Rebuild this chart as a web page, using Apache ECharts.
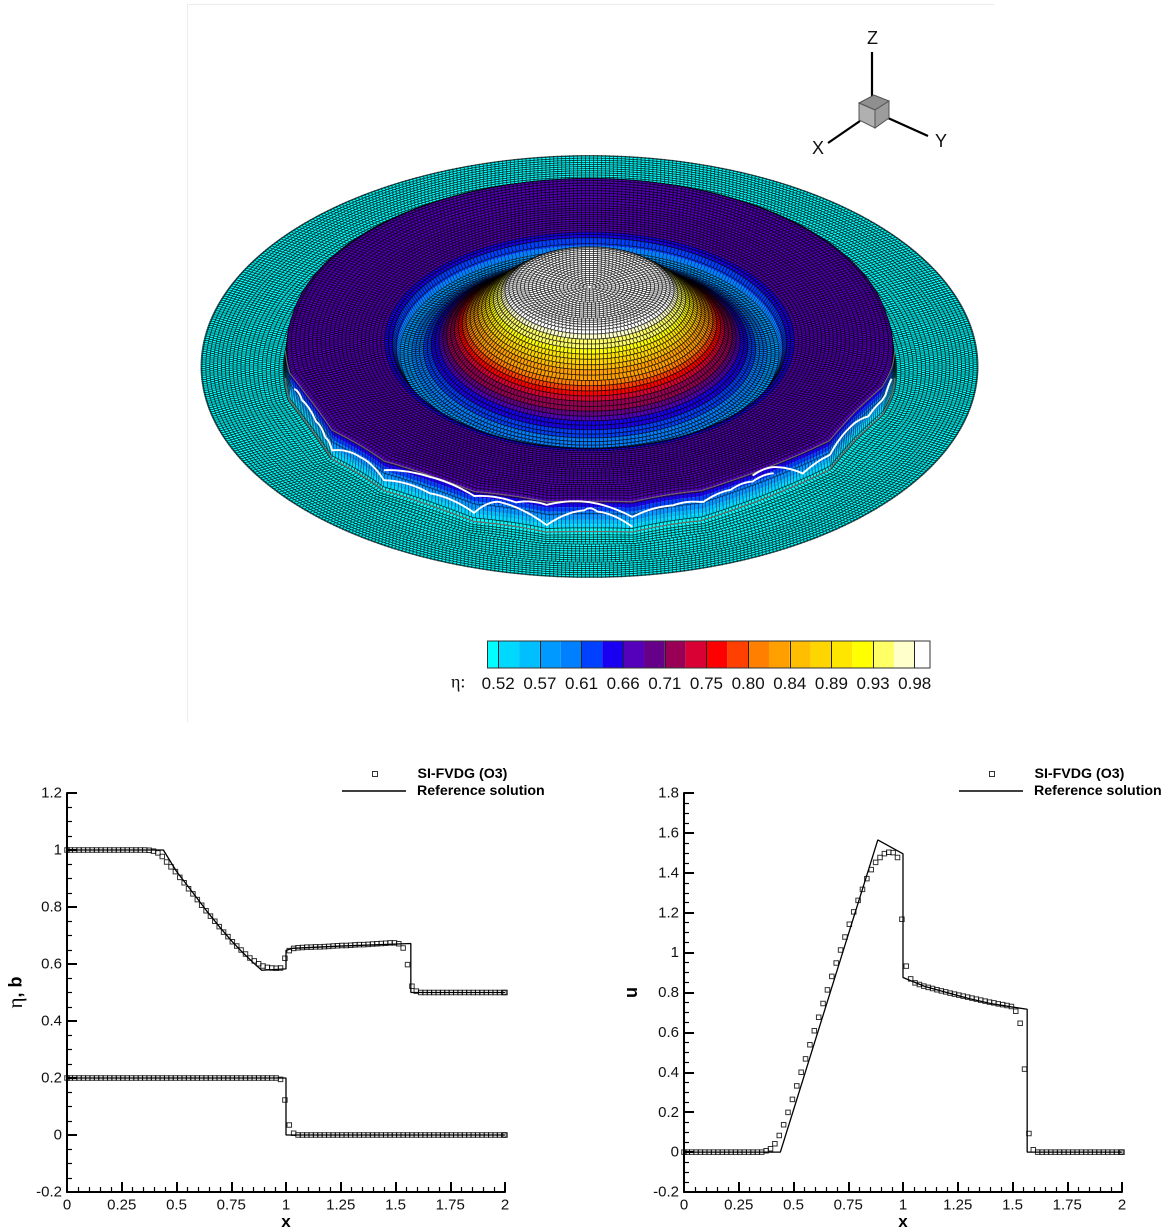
<!DOCTYPE html>
<html>
<head>
<meta charset="utf-8">
<script src="https://cdn.jsdelivr.net/npm/echarts@6/dist/echarts.min.js"></script>
<style>html,body{margin:0;padding:0;background:#fff}#c{width:1170px;height:1232px;filter:blur(0.25px)}</style>
</head>
<body>
<div id="c"></div>
<script>
// ---------- data ----------
const xNodes = [0,
0.015,0.035,0.055,0.075,0.095,0.115,0.135,0.155,0.175,0.195,0.215,0.235,0.255,0.275,0.295,0.315,0.335,0.355,
0.375,0.395,0.415,0.435,0.455,0.475,0.495,0.515,0.535,0.555,0.575,0.595,0.615,0.635,0.655,0.675,0.695,0.715,0.735,0.755,0.775,0.795,0.815,0.835,0.855,0.875,0.895,0.915,0.935,0.955,0.975,0.995,
1.015,1.035,1.055,1.075,1.095,1.115,1.135,1.155,1.175,1.195,1.215,1.235,1.255,1.275,1.295,1.315,1.335,1.355,1.375,1.395,1.415,1.435,1.455,1.475,1.495,
1.515,1.535,1.555,1.575,1.595,
1.615,1.635,1.655,1.675,1.695,1.715,1.735,1.755,1.775,1.795,1.815,1.835,1.855,1.875,1.895,1.915,1.935,1.955,1.975,1.995,
2];
const etaMarkers = [1,
1,1,1,1,1,1,1,1,1,1,1,1,1,1,1,1,1,1,
0.999,0.996,0.99,0.977,0.958,0.941,0.924,0.904,0.885,0.864,0.846,0.826,0.806,0.787,0.768,0.75,0.731,0.712,0.696,0.678,0.663,0.649,0.635,0.621,0.611,0.601,0.593,0.588,0.586,0.585,0.586,0.62,
0.647,0.655,0.657,0.658,0.659,0.659,0.66,0.66,0.661,0.662,0.663,0.664,0.665,0.665,0.666,0.667,0.668,0.668,0.669,0.67,0.671,0.672,0.673,0.674,0.674,
0.671,0.656,0.598,0.522,0.505,
0.5,0.5,0.5,0.5,0.5,0.5,0.5,0.5,0.5,0.5,0.5,0.5,0.5,0.5,0.5,0.5,0.5,0.5,0.5,0.5,
0.5];
const bMarkers = [0.2,
0.2,0.2,0.2,0.2,0.2,0.2,0.2,0.2,0.2,0.2,0.2,0.2,0.2,0.2,0.2,0.2,0.2,0.2,
0.2,0.2,0.2,0.2,0.2,0.2,0.2,0.2,0.2,0.2,0.2,0.2,0.2,0.2,0.2,0.2,0.2,0.2,0.2,0.2,0.2,0.2,0.2,0.2,0.2,0.2,0.2,0.2,0.2,0.2,0.195,0.123,
0.035,0.006,0,0,0,0,0,0,0,0,0,0,0,0,0,0,0,0,0,0,0,0,0,0,0,
0,0,0,0,0,
0,0,0,0,0,0,0,0,0,0,0,0,0,0,0,0,0,0,0,0,
0];
const uMarkers = [0,
0,0,0,0,0,0,0,0,0,0,0,0,0,0,0,0,0,0,
0.007,0.017,0.042,0.083,0.137,0.199,0.264,0.332,0.4,0.467,0.538,0.608,0.676,0.745,0.813,0.881,0.948,1.013,1.078,1.142,1.204,1.262,1.317,1.371,1.416,1.452,1.477,1.496,1.503,1.501,1.477,1.167,
0.932,0.868,0.848,0.84,0.832,0.826,0.82,0.814,0.808,0.803,0.797,0.792,0.787,0.782,0.777,0.772,0.767,0.762,0.757,0.752,0.748,0.743,0.739,0.735,0.73,
0.706,0.646,0.416,0.093,0.012,
0,0,0,0,0,0,0,0,0,0,0,0,0,0,0,0,0,0,0,0,
0];
const etaRefX = [0,0.44,0.5,0.575,0.638,0.7,0.755,0.8,0.85,0.889,1,1,1.03,1.25,1.57,1.57,2];
const etaRefY = [1,1,0.925,0.85,0.786,0.727,0.678,0.642,0.605,0.578,0.583,0.648,0.655,0.663,0.672,0.5,0.5];
const bRefX = [0,1,1,2];
const bRefY = [0.2,0.2,0,0];
const uRefX = [0,0.44,0.885,1,1,1.1,1.2,1.3,1.4,1.5,1.567,1.567,2];
const uRefY = [0,0,1.565,1.495,0.875,0.83,0.8,0.77,0.745,0.727,0.716,0,0];
const bandEdges = [0.5083,0.52,0.5428,0.5655,0.5883,0.611,0.6338,0.6565,0.6793,0.702,0.7248,0.7475,0.7703,0.793,0.8158,0.8385,0.8613,0.884,0.9068,0.9295,0.9523,0.975,0.9917];
const bandColors = ['#00ffff','#00d8ff','#00bfff','#0099ff','#0080ff','#0040ff','#1a00f0','#5500bb','#660088','#990055','#d90033','#ff0000','#ff4000','#ff8000','#ffa000','#ffbf00','#ffd500','#ffe600','#ffff00','#ffff66','#ffffcc','#ffffff'];
const colorbarTicks = [0.52,0.5655,0.611,0.6565,0.702,0.7475,0.793,0.8385,0.884,0.9295,0.975];
const colorbarLabels = ['0.52','0.57','0.61','0.66','0.71','0.75','0.80','0.84','0.89','0.93','0.98'];
// radius of the front wall by azimuth (degrees, 0 = nearest the viewer)
const wallDeg = [-180,-100,-85,-70,-54,-40,-21.5,-8,0,7.5,16,22,33.6,44.8,53,63,73.6,80.8,100,180];
const wallRad = [1.585,1.56,1.57,1.585,1.59,1.58,1.585,1.585,1.59,1.585,1.575,1.57,1.58,1.58,1.575,1.57,1.575,1.58,1.56,1.585];
// azimuths where the wall kinks outward; it scallops inward between them
const wallKinks = [-78,-56.5,-42,-22,-8,8,21.5,51.6,73];
// bright crest lines on the front wall: [azimuth, height fraction of the wall]
const crestA = [[-76,0.62],[-72,0.6],[-65,0.5],[-60,0.4],[-56.5,0.3],[-49,0.6],[-42,0.35],[-32,0.4],[-22,0.29],[-17.5,0.74],[-8,0.23],[-1,0.7],[1.4,0.66],[8,0.17]];
const crestB = [[-42,0.69],[-32,0.95],[-22,0.85],[-14,0.8],[-8,0.9],[0,0.97],[8,0.5],[16,0.62],[22,0.6],[28,0.7],[33,0.72],[38,0.72]];
const crestC = [[33,0.92],[38,0.93],[45,0.3],[52,0.5],[60,0.65],[68,0.4],[75,0.5],[80,0.6]];
const wallTop = [[-86,1],[86,1]];
const wallFoot = [[-86,0],[86,0]];

// ---------- view of the 3D surface ----------
const tilt = 0.5431, lift = 0.82, cosE = Math.sqrt(1-tilt*tilt), rise = lift/cosE;
function lerpTable(xs,ys,v,bulge){
  if (v<=xs[0]) return ys[0];
  for (let k=1;k<xs.length;k++) if (v<=xs[k]){const f=(v-xs[k-1])/(xs[k]-xs[k-1]);return ys[k-1]*(1-f)+ys[k]*f+(bulge||0)*4*f*(1-f);}
  return ys[ys.length-1];
}
function wallR(th){
  const d=th*180/Math.PI;
  let R=lerpTable(wallDeg,wallRad,d);
  for(let k=0;k+1<wallKinks.length;k++) if(d>wallKinks[k]&&d<wallKinks[k+1]){
    const w=wallKinks[k+1]-wallKinks[k],s=(d-wallKinks[k])/w;
    R-=Math.min(0.04,0.0016*w)*4*s*(1-s);
  }
  return R;
}
function mapR(r,th){
  if (r<=1.3||r>=1.8) return r;
  const W=wallR(th);
  if (r<1.535) return 1.3+(r-1.3)/0.235*(W-0.01-1.3);
  if (r<=1.595) return W+(r-1.565)*0.33;
  return W+0.01+(r-1.595)/0.205*(1.8-W-0.01);
}
// heights read a little larger towards the viewer, as in the perspective view
function project(R,th,eta){
  const g=R*Math.cos(th);
  return [R*Math.sin(th), -g*tilt + (eta-0.5)*lift*(1+0.11*g/1.57)];
}
function bandOf(v){
  for (let k=bandEdges.length-2;k>=0;k--) if (v>=bandEdges[k]) return k;
  return 0;
}
const cells = [];
for (let i=1;i<xNodes.length-1;i++){
  const rm = (xNodes[i]+xNodes[i+1])/2;
  const n = Math.max(8,Math.round(2*Math.PI*rm/0.0205));
  for (let j=0;j<n;j++){
    const t0 = -Math.PI+2*Math.PI*j/n, t1 = -Math.PI+2*Math.PI*(j+1)/n;
    const tm = (t0+t1)/2;
    cells.push({i,t0,t1,key:mapR(rm,tm)*Math.cos(tm)});
  }
}
cells.sort((a,b)=>a.key-b.key);
const cellData = cells.map(c=>[0,0]);

function shaded(col,c,e0,e1){
  const tm=(c.t0+c.t1)/2;
  const dr=Math.max(1e-4,mapR(xNodes[c.i+1],tm)-mapR(xNodes[c.i],tm));
  const m=(e1-e0)*rise/dr;
  const nv=(-m*Math.cos(tm)*cosE+tilt)/Math.sqrt(1+m*m);
  if (nv>=0.16) return col;
  const f=Math.max(0,nv/0.16);
  return echarts.color.lerp(0.92*(1-f),[col,'#000000']);
}
function renderCell(params,api){
  const c = cells[params.dataIndex];
  const r0=xNodes[c.i], r1=xNodes[c.i+1], e0=etaMarkers[c.i], e1=etaMarkers[c.i+1];
  const a=project(mapR(r0,c.t0),c.t0,e0), b=project(mapR(r1,c.t0),c.t0,e1), d=project(mapR(r1,c.t1),c.t1,e1), e=project(mapR(r0,c.t1),c.t1,e0);
  const pts=[a,b,d,e].map(p=>api.coord(p));
  if (Math.abs(e0-e1)<0.03){
    return {type:'polygon',shape:{points:pts},style:{fill:shaded(bandColors[bandOf((e0+e1)/2)],c,e0,e1),stroke:'rgba(0,0,0,0.62)',lineWidth:0.85}};
  }
  // a tall cell crosses several colour levels: flood each level inside it
  const cuts=[0];
  const lo=Math.min(e0,e1),hi=Math.max(e0,e1);
  bandEdges.forEach(v=>{if(v>lo&&v<hi)cuts.push((v-e0)/(e1-e0));});
  cuts.push(1);cuts.sort((p,q)=>p-q);
  const mix=(p,q,s)=>[p[0]+(q[0]-p[0])*s,p[1]+(q[1]-p[1])*s];
  const kids=[];
  for(let k=0;k+1<cuts.length;k++){
    const s0=cuts[k],s1=cuts[k+1];
    const quad=[mix(pts[0],pts[1],s0),mix(pts[0],pts[1],s1),mix(pts[3],pts[2],s1),mix(pts[3],pts[2],s0)];
    const v=e0+(e1-e0)*(s0+s1)/2;
    kids.push({type:'polygon',shape:{points:quad},style:{fill:shaded(bandColors[bandOf(v)],c,e0,e1),stroke:null}});
  }
  kids.push({type:'polygon',shape:{points:pts},style:{fill:null,stroke:'#000',lineWidth:0.35}});
  return {type:'group',children:kids};
}
const wallHeight=etaMarkers[76]-0.5;
const overlays=[
  {t:wallTop,stroke:'#6b6b6b',w:1.1,b:0},{t:wallFoot,stroke:'#6b6b6b',w:1.2,b:0},
  {t:crestA,stroke:'#ffffff',w:1.9,b:0.09},{t:crestB,stroke:'#ffffff',w:1.9,b:0.06},{t:crestC,stroke:'#ffffff',w:1.9,b:0.06}
];
function renderOverlay(params,api){
  const o=overlays[params.dataIndex];
  const degs=o.t.map(p=>p[0]),fr=o.t.map(p=>p[1]);
  const pts=[];
  for(let d=degs[0];d<=degs[degs.length-1];d+=0.5){
    const th=d*Math.PI/180, f=Math.min(1,lerpTable(degs,fr,d,o.b));
    pts.push(api.coord(project(wallR(th),th,0.5+f*wallHeight)));
  }
  return {type:'polyline',shape:{points:pts},style:{stroke:o.stroke,lineWidth:o.w,fill:null,lineJoin:'round'}};
}
function renderBand(params,api){
  const k=params.dataIndex;
  const a=api.coord([bandEdges[k],1]), b=api.coord([bandEdges[k+1],0]);
  return {type:'rect',shape:{x:a[0],y:a[1],width:b[0]-a[0],height:b[1]-a[1]},style:{fill:bandColors[k]}};
}
function renderFrame(params,api){
  const a=api.coord([bandEdges[0],1]), b=api.coord([bandEdges[bandEdges.length-1],0]);
  return {type:'rect',shape:{x:a[0],y:a[1],width:b[0]-a[0],height:b[1]-a[1]},style:{fill:null,stroke:'#333',lineWidth:1}};
}

const pairs=(xs,ys)=>xs.map((x,i)=>[x,ys[i]]);
const FONT='"Liberation Sans",Arial,sans-serif';
const REF='Reference solution', SIM='SI-FVDG (O3)';
const markerStyle={color:'rgba(0,0,0,0)',borderColor:'#000',borderWidth:1};

function plotX(g){return {gridIndex:g,type:'value',min:0,max:2,interval:0.25,minorTick:{show:true,splitNumber:5,length:5,lineStyle:{color:'#000',width:1.2}},
  axisLine:{onZero:false,lineStyle:{color:'#000',width:2}},axisTick:{inside:true,length:10,lineStyle:{color:'#000',width:2}},
  axisLabel:{color:'#111',fontSize:15,fontFamily:FONT,margin:6,showMinLabel:true,showMaxLabel:true},splitLine:{show:false},minorSplitLine:{show:false},
  name:'x',nameLocation:'middle',nameGap:21,nameTextStyle:{color:'#000',fontSize:17,fontWeight:'bold',fontFamily:FONT}};}
function plotY(g,max,name,gap){return {gridIndex:g,type:'value',min:-0.2,max:max,interval:0.2,minorTick:{show:true,splitNumber:4,length:5,lineStyle:{color:'#000',width:1.2}},
  axisLine:{show:true,onZero:false,lineStyle:{color:'#000',width:2}},axisTick:{show:true,inside:true,length:10,lineStyle:{color:'#000',width:2}},
  axisLabel:{color:'#111',fontSize:15,fontFamily:FONT,margin:5,verticalAlign:'top',padding:[-7,0,0,0],showMinLabel:true,showMaxLabel:true},splitLine:{show:false},minorSplitLine:{show:false},
  name:name,nameLocation:'middle',nameGap:gap,nameTextStyle:{color:'#000',fontSize:18,fontWeight:'bold',fontFamily:FONT,rich:{e:{fontSize:21,fontWeight:'normal',fontFamily:'"Liberation Serif",serif'}}}};}
function refLine(ax,data){return {name:REF,type:'line',xAxisIndex:ax,yAxisIndex:ax,data:data,showSymbol:false,symbol:'none',lineStyle:{color:'#000',width:1.3},itemStyle:{color:'#000'},silent:true,z:3};}
function markers(ax,data){return {name:SIM,type:'scatter',xAxisIndex:ax,yAxisIndex:ax,data:data,symbol:'rect',symbolSize:4.5,itemStyle:markerStyle,silent:true,z:4};}
function legendMark(left,top){return {left:left,top:top,orient:'vertical',data:[SIM],selectedMode:false,itemWidth:5,itemHeight:5,padding:0,
  itemStyle:markerStyle,textStyle:{color:'#000',fontSize:14.2,fontWeight:'bold',fontFamily:FONT,padding:[0,0,0,35]}};}
function legendLine(left,top){return {left:left,top:top,orient:'vertical',data:[{name:REF,icon:'rect'}],selectedMode:false,itemWidth:64,itemHeight:1.4,padding:0,
  itemStyle:{color:'#000'},textStyle:{color:'#000',fontSize:14.2,fontWeight:'bold',fontFamily:FONT,padding:[0,0,0,6]}};}

const chart=echarts.init(document.getElementById('c'),null,{renderer:'canvas',devicePixelRatio:2});
chart.setOption({
  animation:false,backgroundColor:'#fff',
  grid:[
    {left:187,top:4,width:807,height:718},
    {left:487.5,top:641,width:442.5,height:27},
    {left:67,top:793,width:438,height:399},
    {left:684,top:793,width:438,height:399}
  ],
  xAxis:[
    {gridIndex:0,type:'value',min:-2.0721,max:2.0823,show:false},
    {gridIndex:1,type:'value',min:bandEdges[0],max:bandEdges[bandEdges.length-1],axisLine:{show:false},
      axisTick:{show:true,inside:true,length:27,customValues:colorbarTicks,lineStyle:{color:'#222',width:1}},
      axisLabel:{color:'#111',fontSize:17,fontFamily:FONT,margin:8,customValues:colorbarTicks,
        formatter:v=>{let b=0;colorbarTicks.forEach((t,i)=>{if(Math.abs(t-v)<Math.abs(colorbarTicks[b]-v))b=i;});return colorbarLabels[b];}},
      splitLine:{show:false},z:5},
    plotX(2),plotX(3)
  ],
  yAxis:[
    {gridIndex:0,type:'value',min:-1.8301,max:1.8662,show:false},
    {gridIndex:1,type:'value',min:0,max:1,show:false},
    plotY(2,1.2,'{e|η}, b',40),plotY(3,1.8,'u',43)
  ],
  legend:[legendMark(372,767),legendLine(342,784),legendMark(989,767),legendLine(959,784)],
  series:[
    {type:'custom',coordinateSystem:'cartesian2d',xAxisIndex:0,yAxisIndex:0,data:cellData,renderItem:renderCell,silent:true,clip:false,progressive:0,z:1},
    {type:'custom',coordinateSystem:'cartesian2d',xAxisIndex:0,yAxisIndex:0,data:overlays.map(o=>[0,0]),renderItem:renderOverlay,silent:true,clip:false,progressive:0,z:2},
    {type:'custom',coordinateSystem:'cartesian2d',xAxisIndex:1,yAxisIndex:1,data:bandColors.map((c,k)=>[bandEdges[k],0.5]),renderItem:renderBand,silent:true,clip:false,progressive:0,z:1},
    {type:'custom',coordinateSystem:'cartesian2d',xAxisIndex:1,yAxisIndex:1,data:[[0.75,0.5]],renderItem:renderFrame,silent:true,clip:false,z:2},
    refLine(2,pairs(etaRefX,etaRefY)),refLine(2,pairs(bRefX,bRefY)),
    markers(2,pairs(xNodes,etaMarkers)),markers(2,pairs(xNodes,bMarkers)),
    refLine(3,pairs(uRefX,uRefY)),markers(3,pairs(xNodes,uMarkers))
  ],
  graphic:[
    {type:'line',silent:true,shape:{x1:187.5,y1:4,x2:187.5,y2:722},style:{stroke:'#ececec',lineWidth:1}},
    {type:'line',silent:true,shape:{x1:187,y1:4.5,x2:994,y2:4.5},style:{stroke:'#ececec',lineWidth:1}},
    {type:'line',silent:true,shape:{x1:872,y1:52,x2:872,y2:96},style:{stroke:'#000',lineWidth:2.2}},
    {type:'line',silent:true,shape:{x1:828,y1:143,x2:860,y2:121},style:{stroke:'#000',lineWidth:2.2}},
    {type:'line',silent:true,shape:{x1:888,y1:118,x2:928,y2:136},style:{stroke:'#000',lineWidth:2.2}},
    {type:'polygon',silent:true,shape:{points:[[859,103],[874,95],[889,101],[875,110]]},style:{fill:'#8f8f8f',stroke:'#555',lineWidth:1}},
    {type:'polygon',silent:true,shape:{points:[[859,103],[875,110],[875,128],[859,120]]},style:{fill:'#b0b0b0',stroke:'#555',lineWidth:1}},
    {type:'polygon',silent:true,shape:{points:[[875,110],[889,101],[889,118],[875,128]]},style:{fill:'#9c9c9c',stroke:'#555',lineWidth:1}},
    {type:'text',silent:true,left:867,top:30,style:{text:'Z',fontSize:18,fontFamily:FONT,fill:'#111'}},
    {type:'text',silent:true,left:812,top:140,style:{text:'X',fontSize:18,fontFamily:FONT,fill:'#111'}},
    {type:'text',silent:true,left:935,top:133,style:{text:'Y',fontSize:18,fontFamily:FONT,fill:'#111'}},
    {type:'text',silent:true,left:451,top:674,style:{text:'η:',fontSize:18,fontFamily:'"Liberation Serif",serif',fill:'#111'}}
  ]
});
</script>
</body>
</html>
